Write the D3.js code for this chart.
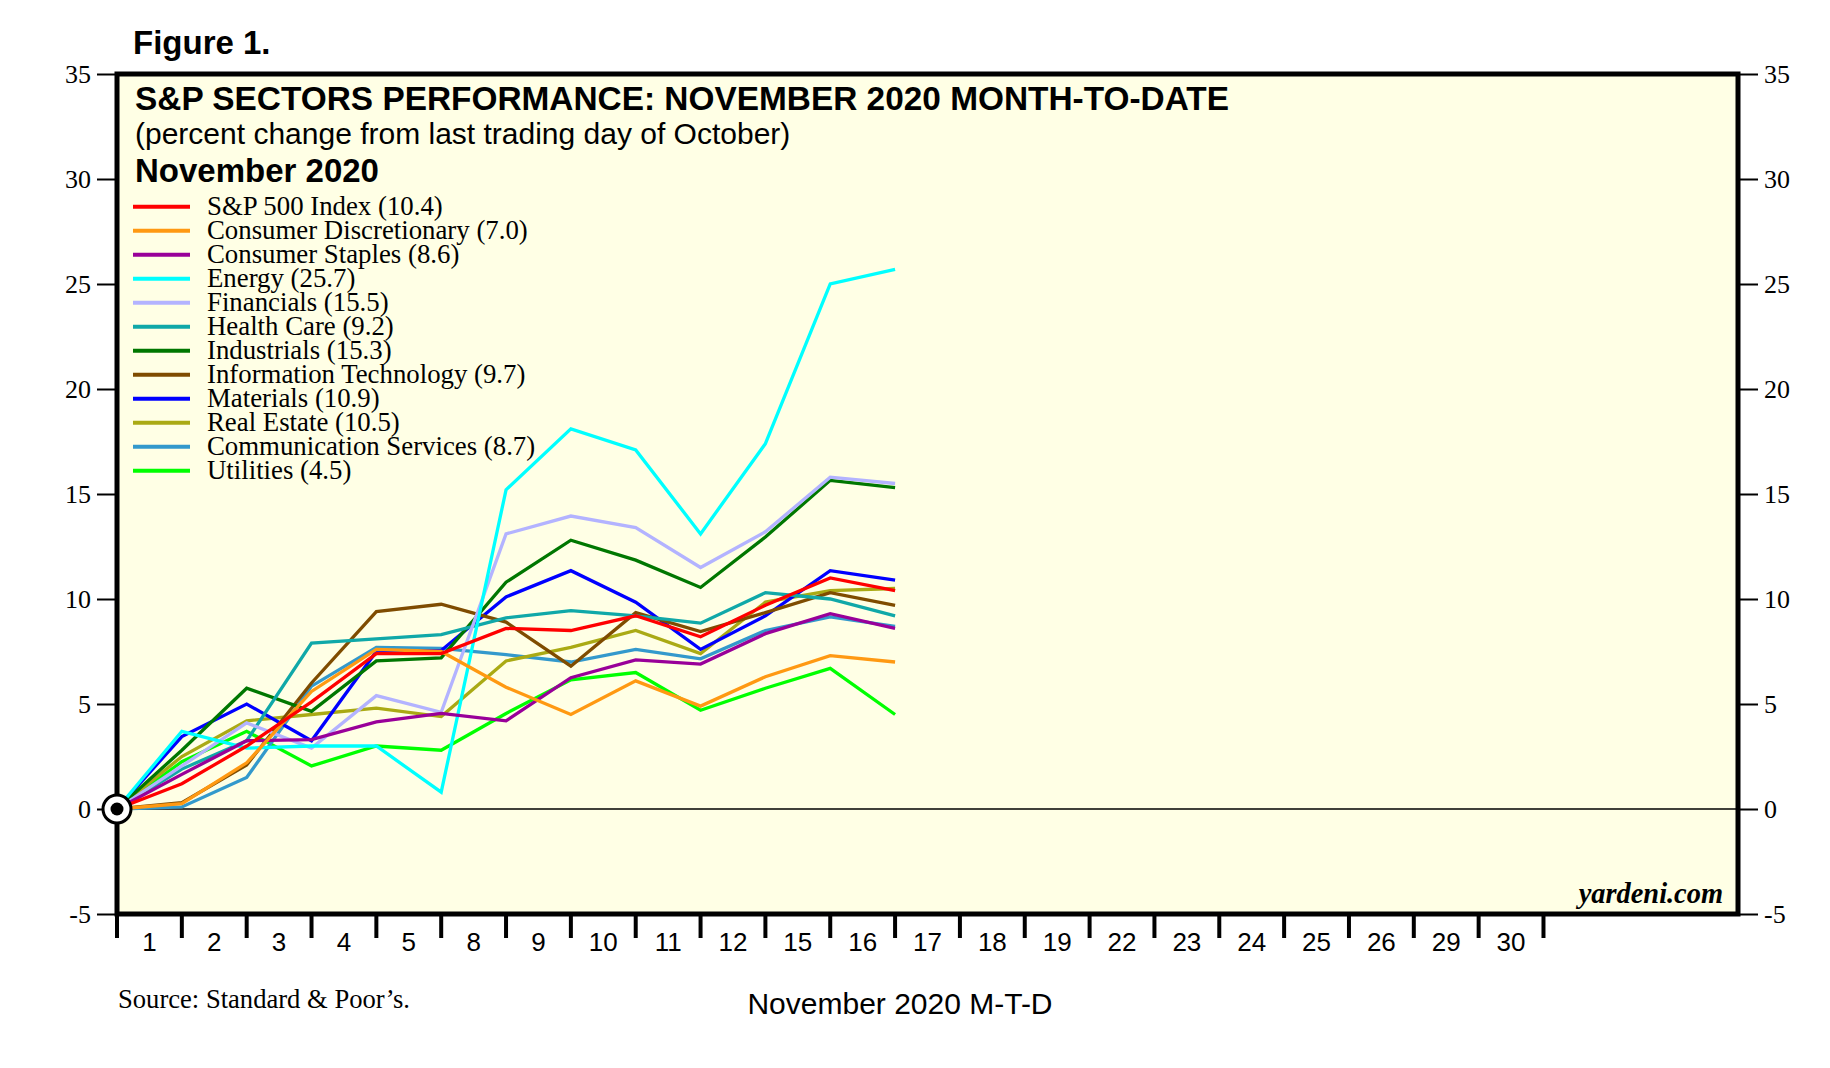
<!DOCTYPE html>
<html>
<head>
<meta charset="utf-8">
<script src="https://cdn.jsdelivr.net/npm/d3@7"></script>
<style>
  body { margin: 0; background: #fff; }
  .sans { font-family: "Liberation Sans", Arial, sans-serif; }
  .serif { font-family: "Liberation Serif", "Times New Roman", serif; }
</style>
</head>
<body>
<svg id="chart" width="1830" height="1068"></svg>
<script>
// trading days of November 2020 (x axis labels)
const days = ["1","2","3","4","5","8","9","10","11","12","15","16","17","18","19","22","23","24","25","26","29","30"];

// sector names, legend values and colours
const sectors = ["S&P 500 Index","Consumer Discretionary","Consumer Staples","Energy","Financials","Health Care",
  "Industrials","Information Technology","Materials","Real Estate","Communication Services","Utilities"];
const lastValues = [10.4, 7.0, 8.6, 25.7, 15.5, 9.2, 15.3, 9.7, 10.9, 10.5, 8.7, 4.5];
const colors = ["#ff0000","#ff9912","#990099","#00ffff","#b3b3ff","#10a8a8",
  "#007700","#7f4c00","#0000ff","#aaaa14","#3399cc","#00ff00"];

// percent change, first point = last trading day of October (0)
const sp500      = [0, 1.2, 3.0, 5.1, 7.4, 7.4, 8.6, 8.5, 9.2, 8.2, 9.7, 11.0, 10.4];
const consDisc   = [0, 0.25, 2.2, 5.6, 7.6, 7.5, 5.8, 4.5, 6.1, 4.9, 6.3, 7.3, 7.0];
const consStap   = [0, 1.65, 3.25, 3.3, 4.15, 4.55, 4.2, 6.25, 7.1, 6.9, 8.35, 9.3, 8.6];
const energy     = [0, 3.7, 2.9, 3.0, 3.0, 0.8, 15.2, 18.1, 17.1, 13.1, 17.4, 25.0, 25.7];
const financials = [0, 2.05, 4.1, 2.9, 5.4, 4.6, 13.1, 13.95, 13.4, 11.5, 13.2, 15.8, 15.5];
const healthCare = [0, 1.9, 3.25, 7.9, 8.1, 8.3, 9.1, 9.45, 9.2, 8.85, 10.3, 10.0, 9.2];
const industrials= [0, 2.8, 5.75, 4.65, 7.05, 7.2, 10.8, 12.8, 11.85, 10.55, 12.95, 15.65, 15.3];
const infoTech   = [0, 0.3, 2.1, 6.0, 9.4, 9.75, 8.9, 6.8, 9.35, 8.45, 9.35, 10.3, 9.7];
const materials  = [0, 3.45, 5.0, 3.25, 7.5, 7.55, 10.1, 11.35, 9.85, 7.6, 9.2, 11.35, 10.9];
const realEstate = [0, 2.5, 4.2, 4.5, 4.8, 4.4, 7.05, 7.7, 8.5, 7.4, 9.85, 10.4, 10.5];
const commServ   = [0, 0.1, 1.5, 5.85, 7.7, 7.65, 7.35, 7.0, 7.6, 7.15, 8.5, 9.15, 8.7];
const utilities  = [0, 2.25, 3.7, 2.05, 3.0, 2.8, 4.55, 6.15, 6.5, 4.7, 5.75, 6.7, 4.5];

const series = [sp500, consDisc, consStap, energy, financials, healthCare,
  industrials, infoTech, materials, realEstate, commServ, utilities];

const yTicks = [-5, 0, 5, 10, 15, 20, 25, 30, 35];

const svg = d3.select("#chart");
const plotL = 117, plotR = 1738, plotT = 74, plotB = 914;

const x = d3.scaleLinear().domain([0, 25]).range([plotL, plotR]);
const y = d3.scaleLinear().domain([-5, 35]).range([plotB, plotT]);

// plot background
svg.append("rect")
  .attr("x", plotL).attr("y", plotT)
  .attr("width", plotR - plotL).attr("height", plotB - plotT)
  .attr("fill", "#ffffe5");

// zero line
svg.append("line")
  .attr("x1", plotL).attr("x2", plotR)
  .attr("y1", y(0)).attr("y2", y(0))
  .attr("stroke", "#000").attr("stroke-width", 1.4);

// lines (drawn in reverse so S&P is on top)
const line = d3.line().x((d, i) => x(i)).y(d => y(d));
svg.append("g").selectAll("path")
  .data(series.map((s, i) => ({ s, i })).reverse())
  .enter().append("path")
  .attr("d", d => line(d.s))
  .attr("fill", "none")
  .attr("stroke", d => colors[d.i])
  .attr("stroke-width", 3.3)
  .attr("stroke-linejoin", "miter");

// frame
svg.append("rect")
  .attr("x", plotL).attr("y", plotT)
  .attr("width", plotR - plotL).attr("height", plotB - plotT)
  .attr("fill", "none").attr("stroke", "#000").attr("stroke-width", 5);

// left & right y axes
const yLeft = d3.axisLeft(y).tickValues(yTicks).tickSize(18).tickPadding(6).tickFormat(d => String(d));
const yRight = d3.axisRight(y).tickValues(yTicks).tickSize(18).tickPadding(6).tickFormat(d => String(d));
[[yLeft, plotL - 2], [yRight, plotR + 2]].forEach(([ax, pos]) => {
  const g = svg.append("g").attr("transform", `translate(${pos},0)`).call(ax);
  g.select(".domain").remove();
  g.selectAll(".tick line").attr("stroke-width", 2);
  g.selectAll("text").attr("class", "serif").attr("font-size", 26).attr("fill", "#000");
});

// x axis: ticks between days, labels centred in each interval
const xAxis = svg.append("g").attr("transform", `translate(0,${plotB})`);
xAxis.selectAll("line")
  .data(d3.range(days.length + 1))
  .enter().append("line")
  .attr("x1", d => x(d)).attr("x2", d => x(d))
  .attr("y1", 0).attr("y2", 24)
  .attr("stroke", "#000").attr("stroke-width", 4);
xAxis.selectAll("text")
  .data(days)
  .enter().append("text")
  .attr("class", "sans")
  .attr("x", (d, i) => x(i + 0.5))
  .attr("y", 37)
  .attr("text-anchor", "middle")
  .attr("font-size", 26)
  .text(d => d);

// origin marker
svg.append("circle").attr("cx", x(0)).attr("cy", y(0)).attr("r", 14)
  .attr("fill", "#fff").attr("stroke", "#000").attr("stroke-width", 3);
svg.append("circle").attr("cx", x(0)).attr("cy", y(0)).attr("r", 6.5).attr("fill", "#000");

// titles
svg.append("text").attr("class", "sans").attr("x", 133).attr("y", 54)
  .attr("font-size", 33).attr("font-weight", "bold").text("Figure 1.");
svg.append("text").attr("class", "sans").attr("x", 135).attr("y", 110)
  .attr("font-size", 33.4).attr("font-weight", "bold")
  .text("S&P SECTORS PERFORMANCE: NOVEMBER 2020 MONTH-TO-DATE");
svg.append("text").attr("class", "sans").attr("x", 135).attr("y", 144)
  .attr("font-size", 30)
  .text("(percent change from last trading day of October)");
svg.append("text").attr("class", "sans").attr("x", 135).attr("y", 182)
  .attr("font-size", 33).attr("font-weight", "bold").text("November 2020");

// legend
const legend = svg.append("g").selectAll("g")
  .data(sectors)
  .enter().append("g")
  .attr("transform", (d, i) => `translate(0,${206.7 + i * 24})`);
legend.append("line")
  .attr("x1", 133).attr("x2", 190)
  .attr("stroke", (d, i) => colors[i]).attr("stroke-width", 4);
legend.append("text")
  .attr("class", "serif")
  .attr("x", 207).attr("y", 8.5)
  .attr("font-size", 26.8)
  .text((d, i) => `${d} (${lastValues[i].toFixed(1)})`);

// footer
svg.append("text").attr("class", "serif").attr("x", 1723).attr("y", 903)
  .attr("text-anchor", "end").attr("font-size", 28.4)
  .attr("font-weight", "bold").attr("font-style", "italic").text("yardeni.com");
svg.append("text").attr("class", "serif").attr("x", 118).attr("y", 1008)
  .attr("font-size", 26.6).text("Source: Standard & Poor\u2019s.");
svg.append("text").attr("class", "sans").attr("x", 900).attr("y", 1014)
  .attr("text-anchor", "middle").attr("font-size", 30).text("November 2020 M-T-D");
</script>
</body>
</html>
